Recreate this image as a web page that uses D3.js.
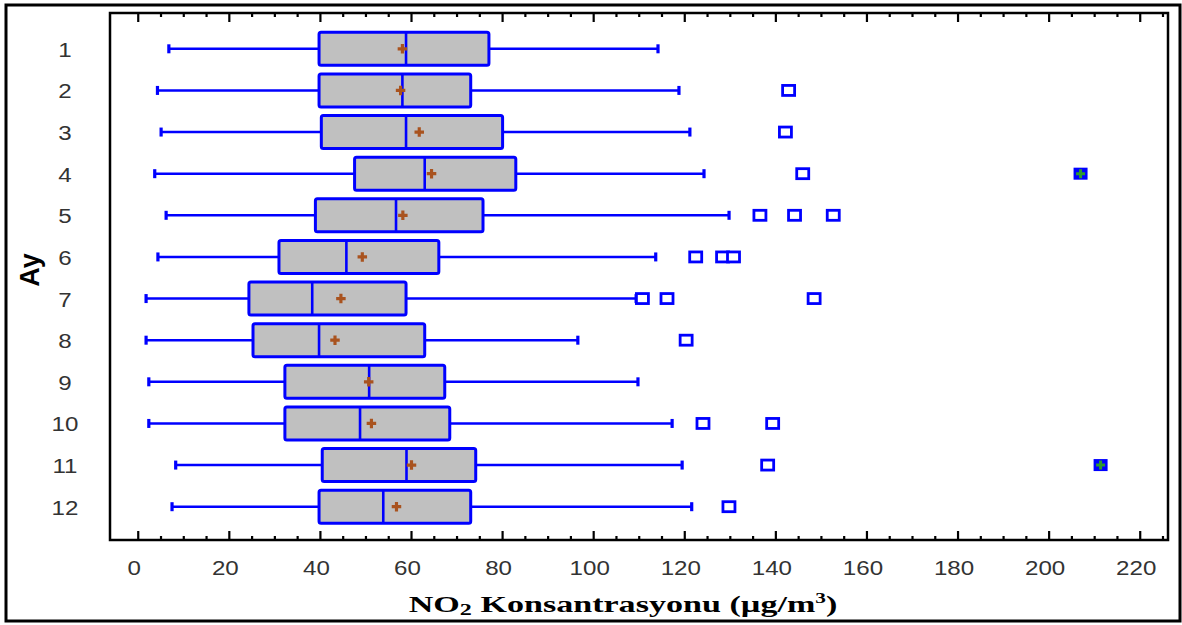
<!DOCTYPE html>
<html>
<head>
<meta charset="utf-8">
<script src="https://cdn.jsdelivr.net/npm/d3@7"></script>
<style>
	body { margin: 0; background: #fff; }
	svg { display: block; }
	.tick-label { font-family: "Liberation Sans", Arial, sans-serif; font-size: 21px; fill: #333; }
</style>
</head>
<body>
<div id="chart"></div>
<script>
// month labels on the y axis
var months = ["1", "2", "3", "4", "5", "6", "7", "8", "9", "10", "11", "12"];

// box plot statistics (NO2, µg/m3)
var whiskerLow  = [6.7, 4.2, 5.0, 3.6, 6.1, 4.3, 1.7, 1.7, 2.3, 2.3, 8.2, 7.4];
var q1          = [39.7, 39.7, 40.2, 47.5, 38.9, 30.9, 24.3, 25.2, 32.2, 32.2, 40.4, 39.7];
var median      = [58.8, 58.0, 58.8, 62.9, 56.6, 45.7, 38.2, 39.7, 50.7, 48.7, 58.9, 53.8];
var mean        = [58.0, 57.6, 61.7, 64.4, 58.1, 49.2, 44.5, 43.2, 50.6, 51.2, 60.0, 56.7];
var q3          = [77.0, 73.0, 80.0, 82.9, 75.7, 66.0, 58.8, 62.9, 67.3, 68.4, 74.1, 73.0];
var whiskerHigh = [114.1, 118.7, 121.1, 124.2, 129.7, 113.6, 109.3, 96.5, 109.7, 117.2, 119.4, 121.5];

// outside points and far outside points
var outliers = [[], [142.8], [142.1], [145.9], [136.5, 144.1, 152.6], [122.4, 128.3, 130.7],
	[110.7, 116.1, 148.4], [120.3], [], [124.0, 139.3], [138.2], [129.7]];
var farOutliers = [[], [], [], [206.9], [], [], [], [], [], [], [211.3], []];

var xTicks = d3.range(0, 221, 20);
var xMinor = d3.range(0, 226, 5);

var width = 1182, height = 625;
var plot = {left: 110, right: 1168, top: 13, bottom: 540};

var blue = "#0000ff";

var svg = d3.select("#chart")
	.append("svg")
	.attr("width", width)
	.attr("height", height);

// outer frame
svg.append("rect")
	.attr("x", 6).attr("y", 5)
	.attr("width", 1174).attr("height", 616)
	.attr("fill", "none")
	.attr("stroke", "#000")
	.attr("stroke-width", 3);

// scales
var x = d3.scaleLinear()
	.domain([-6.2, 226.1])
	.range([plot.left, plot.right]);

var y = d3.scaleLinear()
	.domain([0.14, 12.8])
	.range([plot.top, plot.bottom]);

var data = months.map(function (m, i) {
	return {
		month: m, pos: i + 1,
		lo: whiskerLow[i], q1: q1[i], med: median[i], mean: mean[i], q3: q3[i], hi: whiskerHigh[i],
		out: outliers[i], far: farOutliers[i]
	};
});

// ticks pointing into the plot, major every 20, minor every 5
var gBottom = svg.append("g")
	.attr("transform", "translate(0," + plot.bottom + ")");
var gTop = svg.append("g")
	.attr("transform", "translate(0," + plot.top + ")");

gBottom.selectAll("line.tk")
	.data(xMinor)
	.enter()
	.append("line")
	.attr("x1", function (d) { return x(d); })
	.attr("x2", function (d) { return x(d); })
	.attr("y1", 0)
	.attr("y2", function (d) { return d % 20 === 0 ? -9 : -4; })
	.attr("stroke", "#000")
	.attr("stroke-width", 2.2);

gTop.selectAll("line.tk")
	.data(xMinor)
	.enter()
	.append("line")
	.attr("x1", function (d) { return x(d); })
	.attr("x2", function (d) { return x(d); })
	.attr("y1", 0)
	.attr("y2", function (d) { return d % 20 === 0 ? 9 : 4; })
	.attr("stroke", "#000")
	.attr("stroke-width", 2.2);

// tick labels, slightly stretched like the original
gBottom.selectAll("text")
	.data(xTicks)
	.enter()
	.append("text")
	.attr("class", "tick-label")
	.attr("transform", function (d) { return "translate(" + (x(d) - 4) + ",35) scale(1.15,1)"; })
	.attr("text-anchor", "middle")
	.text(function (d) { return d; });

svg.selectAll("text.ylab")
	.data(data)
	.enter()
	.append("text")
	.attr("class", "tick-label ylab")
	.attr("transform", function (d) { return "translate(65," + (y(d.pos) + 8) + ") scale(1.15,1)"; })
	.attr("text-anchor", "middle")
	.text(function (d) { return d.month; });

// plot frame
svg.append("rect")
	.attr("x", plot.left).attr("y", plot.top)
	.attr("width", plot.right - plot.left)
	.attr("height", plot.bottom - plot.top)
	.attr("fill", "none")
	.attr("stroke", "#000")
	.attr("stroke-width", 2.5);

var boxH = 33;

var rows = svg.selectAll("g.row")
	.data(data)
	.enter()
	.append("g")
	.attr("class", "row")
	.attr("transform", function (d) { return "translate(0," + y(d.pos) + ")"; });

// whiskers
rows.append("line")
	.attr("x1", function (d) { return x(d.lo); })
	.attr("x2", function (d) { return x(d.q1); })
	.attr("stroke", blue).attr("stroke-width", 2.4);
rows.append("line")
	.attr("x1", function (d) { return x(d.q3); })
	.attr("x2", function (d) { return x(d.hi); })
	.attr("stroke", blue).attr("stroke-width", 2.4);

// whisker caps
rows.selectAll("rect.cap")
	.data(function (d) { return [d.lo, d.hi]; })
	.enter()
	.append("rect")
	.attr("x", function (d) { return x(d) - 1.5; })
	.attr("y", -4.5)
	.attr("width", 3.2)
	.attr("height", 9)
	.attr("fill", blue);

// boxes
rows.append("rect")
	.attr("x", function (d) { return x(d.q1); })
	.attr("y", -boxH / 2)
	.attr("width", function (d) { return x(d.q3) - x(d.q1); })
	.attr("height", boxH)
	.attr("rx", 2)
	.attr("fill", "#c0c0c0")
	.attr("stroke", blue)
	.attr("stroke-width", 3);

// medians
rows.append("line")
	.attr("x1", function (d) { return x(d.med); })
	.attr("x2", function (d) { return x(d.med); })
	.attr("y1", -boxH / 2)
	.attr("y2", boxH / 2)
	.attr("stroke", blue).attr("stroke-width", 2.6);

// mean markers
var plus = d3.symbol().type(d3.symbolCross).size(50);
rows.append("path")
	.attr("d", plus)
	.attr("transform", function (d) { return "translate(" + x(d.mean) + ",0)"; })
	.attr("fill", "#a9531f");

// outside points
rows.selectAll("rect.out")
	.data(function (d) { return d.out; })
	.enter()
	.append("rect")
	.attr("class", "out")
	.attr("x", function (d) { return x(d) - 6; })
	.attr("y", -5)
	.attr("width", 12)
	.attr("height", 10)
	.attr("fill", "#fff")
	.attr("stroke", blue)
	.attr("stroke-width", 2.8);

// far outside points
var far = rows.selectAll("g.far")
	.data(function (d) { return d.far; })
	.enter()
	.append("g")
	.attr("class", "far")
	.attr("transform", function (d) { return "translate(" + x(d) + ",0)"; });
far.append("rect")
	.attr("x", -7).attr("y", -6)
	.attr("width", 14).attr("height", 12)
	.attr("fill", blue);
far.append("path")
	.attr("d", d3.symbol().type(d3.symbolCross).size(45))
	.attr("fill", "#2e9a2e");

// axis titles
svg.append("text")
	.attr("transform", "translate(39,270) rotate(-90)")
	.attr("text-anchor", "middle")
	.style("font-family", "'Liberation Sans', Arial, sans-serif")
	.style("font-weight", "bold")
	.style("font-size", "27px")
	.text("Ay");

var title = svg.append("text")
	.attr("transform", "translate(623,612) scale(1.42,1)")
	.attr("text-anchor", "middle")
	.style("font-family", "'Liberation Serif', 'Times New Roman', serif")
	.style("font-weight", "bold")
	.style("font-size", "24px");
title.append("tspan").text("NO");
title.append("tspan").attr("dy", 3).style("font-size", "17px").text("2");
title.append("tspan").attr("dy", -3).text(" Konsantrasyonu (µg/m");
title.append("tspan").attr("dy", -9).style("font-size", "15px").text("3");
title.append("tspan").attr("dy", 9).text(")");
</script>
</body>
</html>
